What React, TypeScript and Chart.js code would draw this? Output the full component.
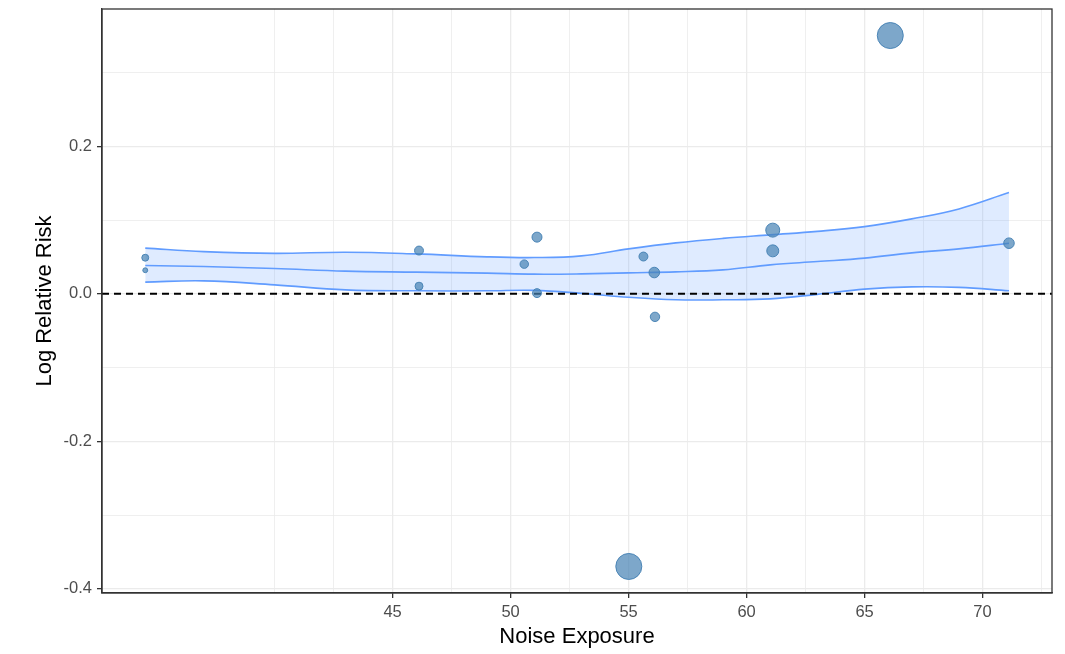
import React, { useEffect, useRef } from "react";
import { Chart, registerables } from "chart.js";

Chart.register(...registerables);

// ---- Study points (bubbles) ----
const exposure = [34.52, 34.52, 46.12, 46.12, 51.12, 50.58, 51.12, 55.63, 56.09, 56.12, 55.01, 61.11, 61.11, 66.09, 71.12];
const logRR = [0.049, 0.032, 0.0587, 0.0104, 0.0769, 0.0403, 0.001, 0.0506, 0.0289, -0.0312, -0.3697, 0.0864, 0.0583, 0.3503, 0.0687];
const weight = [12, 6, 20, 16, 25, 18, 20, 20, 28, 22, 169, 49, 36, 169, 28];

// ---- Loess smooth with confidence band ----
const smoothX = [34.52, 37, 40, 43, 46, 49, 51, 53, 55, 57, 59, 61, 63, 65, 67, 69, 71.12];
const smoothFit = [0.0384, 0.037, 0.0343, 0.0308, 0.0294, 0.0281, 0.0267, 0.0271, 0.0285, 0.0298, 0.0325, 0.0393, 0.0438, 0.0484, 0.0556, 0.061, 0.0687];
const smoothUpper = [0.062, 0.0573, 0.0549, 0.0565, 0.0542, 0.0502, 0.0492, 0.0515, 0.061, 0.0691, 0.0752, 0.08, 0.0847, 0.0912, 0.1017, 0.1152, 0.1373];
const smoothLower = [0.0159, 0.0176, 0.0122, 0.0054, 0.0041, 0.0041, 0.0047, 0.0007, -0.0047, -0.0081, -0.0081, -0.0068, -0.0007, 0.0064, 0.0095, 0.0088, 0.0041];

// ---- Axes ----
const xLabelTicks = [45, 50, 55, 60, 65, 70];
const xMinorTicks = [40, 42.5, 47.5, 52.5, 57.5, 62.5, 67.5, 72.5];
const yLabelTicks = [-0.4, -0.2, 0, 0.2];
const yMinorTicks = [-0.3, -0.1, 0.1, 0.3];
const xLimits = [32.687, 72.943];
const yLimits = [-0.4057, 0.3863];
const refLine = 0;

const FONT = "'Liberation Sans', Arial, Helvetica, sans-serif";

const isIn = (arr: number[], v: number) => arr.some((a) => Math.abs(a - v) < 1e-6);

const panelBorder = {
  id: "panelBorder",
  afterDraw(chart: any) {
    const { ctx, chartArea: a } = chart;
    ctx.save();
    ctx.strokeStyle = "#333333";
    ctx.lineWidth = 1.3;
    ctx.strokeRect(a.left, a.top, a.right - a.left, a.bottom - a.top);
    ctx.restore();
  },
};

export default function App() {
  const ref = useRef<HTMLCanvasElement | null>(null);

  useEffect(() => {
    if (!ref.current) return;
    const points = exposure.map((x, i) => ({ x, y: logRR[i] }));
    const radii = weight.map((w) => Math.sqrt(w));
    const fit = smoothX.map((x, i) => ({ x, y: smoothFit[i] }));
    const up = smoothX.map((x, i) => ({ x, y: smoothUpper[i] }));
    const lo = smoothX.map((x, i) => ({ x, y: smoothLower[i] }));
    const hline = xLimits.map((x) => ({ x, y: refLine }));

    const chart = new Chart(ref.current, {
      type: "scatter",
      data: {
        datasets: [
          {
            type: "scatter",
            data: points,
            pointRadius: radii,
            pointHoverRadius: radii,
            backgroundColor: "rgba(70,130,180,0.7)",
            borderColor: "rgba(70,130,180,0.95)",
            borderWidth: 1,
          } as any,
          {
            type: "line",
            data: hline,
            borderColor: "#000000",
            borderWidth: 2,
            borderDash: [7, 5],
            pointRadius: 0,
            fill: false,
          },
          {
            type: "line",
            data: fit,
            borderColor: "#619CFF",
            borderWidth: 1.6,
            pointRadius: 0,
            tension: 0.4,
            fill: false,
          },
          {
            type: "line",
            data: up,
            borderColor: "#619CFF",
            borderWidth: 1.6,
            pointRadius: 0,
            tension: 0.4,
            fill: "+1",
            backgroundColor: "rgba(97,156,255,0.2)",
          },
          {
            type: "line",
            data: lo,
            borderColor: "#619CFF",
            borderWidth: 1.6,
            pointRadius: 0,
            tension: 0.4,
            fill: false,
          },
        ],
      },
      options: {
        responsive: false,
        animation: false,
        events: [],
        layout: { autoPadding: false, padding: { left: 0, top: 9, right: 13, bottom: 0 } },
        plugins: {
          legend: { display: false },
          tooltip: { enabled: false },
        },
        scales: {
          x: {
            type: "linear",
            min: xLimits[0],
            max: xLimits[1],
            afterBuildTicks: (s: any) => {
              s.ticks = [...xLabelTicks, ...xMinorTicks].sort((a, b) => a - b).map((v) => ({ value: v }));
            },
            afterFit: (s: any) => {
              s.height = 61;
              s.paddingLeft = 0;
              s.paddingRight = 0;
            },
            ticks: {
              autoSkip: false,
              maxRotation: 0,
              minRotation: 0,
              padding: 5,
              color: "#4d4d4d",
              font: { family: FONT, size: 16.5 },
              callback: (v: any) => (isIn(xLabelTicks, Number(v)) ? String(v) : ""),
            },
            grid: {
              color: "#ebebeb",
              lineWidth: (c: any) => (c.tick && isIn(xLabelTicks, c.tick.value) ? 1.3 : 0.8),
              tickColor: (c: any) => (c.tick && isIn(xLabelTicks, c.tick.value) ? "#333333" : "rgba(0,0,0,0)"),
              tickLength: 5,
              tickWidth: 1.3,
            },
            border: { display: true, color: "#333333", width: 1.3 },
            title: {
              display: true,
              text: "Noise Exposure",
              color: "#000000",
              font: { family: FONT, size: 22 },
              padding: { top: 0, bottom: 3.4 },
            },
          },
          y: {
            type: "linear",
            min: yLimits[0],
            max: yLimits[1],
            afterBuildTicks: (s: any) => {
              s.ticks = [...yLabelTicks, ...yMinorTicks].sort((a, b) => a - b).map((v) => ({ value: v }));
            },
            afterFit: (s: any) => {
              s.width = 102;
              s.paddingTop = 0;
              s.paddingBottom = 0;
            },
            ticks: {
              autoSkip: false,
              padding: 5,
              color: "#4d4d4d",
              font: { family: FONT, size: 16.5 },
              callback: (v: any) => (isIn(yLabelTicks, Number(v)) ? Number(v).toFixed(1) : ""),
            },
            grid: {
              color: "#ebebeb",
              lineWidth: (c: any) => (c.tick && isIn(yLabelTicks, c.tick.value) ? 1.3 : 0.8),
              tickColor: (c: any) => (c.tick && isIn(yLabelTicks, c.tick.value) ? "#333333" : "rgba(0,0,0,0)"),
              tickLength: 5,
              tickWidth: 1.3,
            },
            border: { display: true, color: "#333333", width: 1.3 },
            title: {
              display: true,
              text: "Log Relative Risk",
              color: "#000000",
              font: { family: FONT, size: 22 },
              padding: { top: 31.8, bottom: 0 },
            },
          },
        },
      },
      plugins: [panelBorder],
    } as any);

    return () => chart.destroy();
  }, []);

  return (
    <div style={{ position: "absolute", left: 0, top: 0, width: 1065, height: 654, background: "#ffffff" }}>
      <canvas ref={ref} width={1065} height={654} style={{ display: "block", width: 1065, height: 654 }} />
    </div>
  );
}
